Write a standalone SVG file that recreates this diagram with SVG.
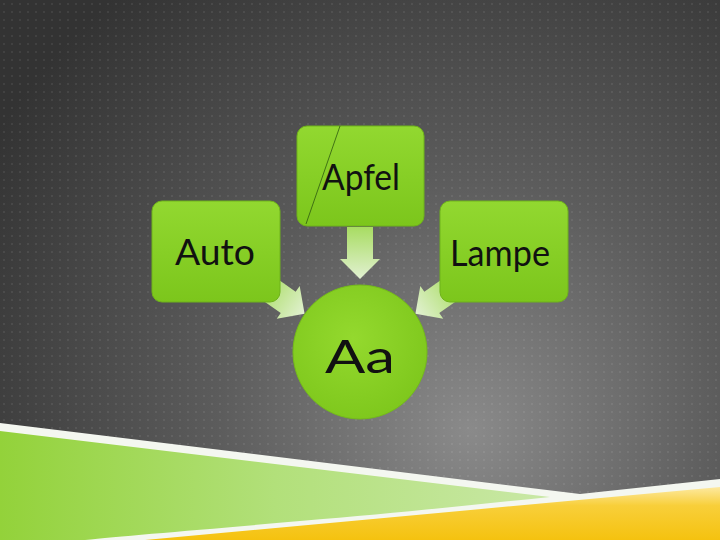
<svg xmlns="http://www.w3.org/2000/svg" width="720" height="540" viewBox="0 0 720 540">
<defs>
<radialGradient id="bg" cx="470" cy="430" r="560" gradientUnits="userSpaceOnUse">
<stop offset="0" stop-color="#8a8a8a"/>
<stop offset="0.45" stop-color="#5c5c5c"/>
<stop offset="1" stop-color="#333333"/>
</radialGradient>
<pattern id="dots" width="8" height="8" patternUnits="userSpaceOnUse">
<rect x="3" y="3" width="2" height="2" fill="#ffffff" fill-opacity="0.07"/>
</pattern>
<linearGradient id="boxg" x1="0" y1="0" x2="0" y2="1">
<stop offset="0" stop-color="#92d830"/>
<stop offset="1" stop-color="#7cc61c"/>
</linearGradient>
<radialGradient id="circg" cx="0.45" cy="0.4" r="0.6">
<stop offset="0" stop-color="#94d92e"/>
<stop offset="1" stop-color="#7fc81d"/>
</radialGradient>
<linearGradient id="arrg" x1="0" y1="0" x2="1" y2="0">
<stop offset="0" stop-color="#a8dc62"/>
<stop offset="1" stop-color="#e2f1d2"/>
</linearGradient>
<linearGradient id="greenband" x1="0" y1="0" x2="1" y2="0">
<stop offset="0" stop-color="#93d23a"/>
<stop offset="0.5" stop-color="#b2e07a"/>
<stop offset="1" stop-color="#c9e8a6"/>
</linearGradient>
<linearGradient id="yellowband" x1="0" y1="0" x2="0" y2="1">
<stop offset="0" stop-color="#fde9a0"/>
<stop offset="0.35" stop-color="#f8cf3a"/>
<stop offset="1" stop-color="#f5c20f"/>
</linearGradient>
<path id="arrow" d="M0,-13 L32,-13 L32,-20 L52,0 L32,20 L32,13 L0,13 Z"/>
</defs>
<style>
.box{fill:url(#boxg);stroke:#6fb31a;stroke-width:1}
.lbl{font-family:Lato,"Open Sans","Liberation Sans",sans-serif;fill:#111111;text-anchor:middle}
.arr{fill:url(#arrg)}
</style>
<rect width="720" height="540" fill="url(#bg)"/>
<rect width="720" height="540" fill="url(#dots)"/>
<g id="bottom">
<path d="M0,423 L580,494 L720,479 L720,540 L0,540 Z" fill="#f4f7f0"/>
<path d="M0,431 L550,497 C470,505 400,513 300,521 C200,530 120,536 85,540 L0,540 Z" fill="url(#greenband)"/>
<path d="M145,540 L720,487 L720,540 Z" fill="url(#yellowband)"/>
</g>
<g id="connectors">
<use href="#arrow" class="arr" transform="translate(360,227) rotate(90)"/>
<use href="#arrow" class="arr" transform="translate(262,284) rotate(35)"/>
<use href="#arrow" class="arr" transform="translate(458,284) rotate(145)"/>
</g>
<g id="apfel">
<rect class="box" x="297" y="126" width="127" height="100" rx="10"/>
<line x1="340" y1="126" x2="306" y2="224" stroke="#2f5a10" stroke-width="0.8"/>
<text class="lbl" x="361" y="190" font-size="36" textLength="78" lengthAdjust="spacingAndGlyphs">Apfel</text>
</g>
<g id="auto">
<rect class="box" x="152" y="201" width="128" height="101" rx="10"/>
<text class="lbl" x="215" y="265" font-size="36" textLength="80" lengthAdjust="spacingAndGlyphs">Auto</text>
</g>
<g id="lampe">
<rect class="box" x="440" y="201" width="128" height="101" rx="10"/>
<text class="lbl" x="500" y="266" font-size="36" textLength="100" lengthAdjust="spacingAndGlyphs">Lampe</text>
</g>
<g id="aa">
<circle cx="360" cy="352" r="67" fill="url(#circg)" stroke="#74bb1a" stroke-width="1"/>
<text class="lbl" x="360" y="373" font-size="46" textLength="70" lengthAdjust="spacingAndGlyphs">Aa</text>
</g>
</svg>
